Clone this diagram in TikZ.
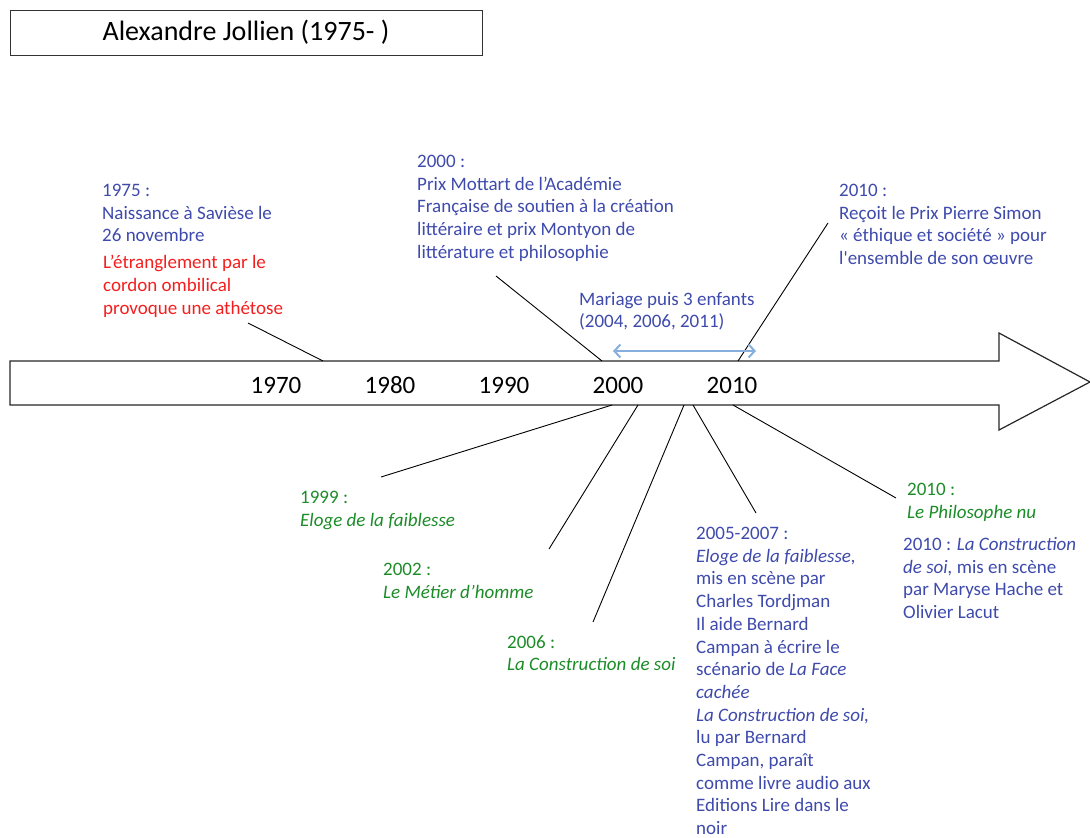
\documentclass[tikz,border=0pt]{standalone}
\usepackage{fontspec}
\setmainfont{Carlito}
\usetikzlibrary{arrows.meta}
\definecolor{evblue}{RGB}{62,74,172}
\definecolor{evgreen}{RGB}{28,140,40}
\definecolor{evred}{RGB}{245,30,30}
\definecolor{kidblue}{RGB}{135,175,222}

\begin{document}
\begin{tikzpicture}[x=1pt,y=-1pt,
        txt/.style={anchor=north west,inner sep=0pt,align=left,font=\fontsize{19}{22.7}\selectfont},
        bluetxt/.style={txt,text=evblue},
        greentxt/.style={txt,text=evgreen},
        redtxt/.style={txt,text=evred},
        yearlbl/.style={inner sep=0pt,font=\fontsize{25}{30}\selectfont},
        link/.style={black,line width=0.9pt}]
        \useasboundingbox (0,0) rectangle (1090,838);
        % title
        \node[draw=black!80,line width=1pt,minimum width=472,minimum height=45,inner sep=0pt,
          font=\fontsize{28}{32}\selectfont] (title) at (246,32.5) {Alexandre Jollien (1975- )};
        % time axis
        \draw[black!85,line width=1.2pt] (10,361) -- (999,361) -- (999,333) -- (1090,382)
          -- (999,430) -- (999,405) -- (10,405) -- cycle;
        \foreach \yr [count=\i from 0] in {1970,1980,1990,2000,2010}
          \node[yearlbl] (y\yr) at (276+114*\i,385) {\yr};
        % points on the axis
        \coordinate (a1975) at (323,361);
        \coordinate (a2000t) at (602,361);
        \coordinate (a2010t) at (738,361);
        \coordinate (a1999) at (612,405);
        \coordinate (a2002) at (638,405);
        \coordinate (a2006) at (684,405);
        \coordinate (a2005) at (693,405);
        \coordinate (a2010b) at (733,405);
        % free ends
        \coordinate (e1975) at (248,323);
        \coordinate (e2000t) at (496,276);
        \coordinate (e2010t) at (828,223);
        \coordinate (e1999) at (381,477);
        \coordinate (e2002) at (549,549);
        \coordinate (e2006) at (593,622);
        \coordinate (e2005) at (756,513);
        \coordinate (e2010b) at (896,498);
        \foreach \p in {1975,2000t,2010t,1999,2002,2006,2005,2010b}
          \draw[link] (a\p) -- (e\p);
        % mariage
        \coordinate (m1) at (613,351);
        \coordinate (m2) at (756,351);
        \draw[kidblue,line width=2pt,{Straight Barb[length=6pt,width=13pt]}-{Straight Barb[length=6pt,width=13pt]}] (m1) -- (m2);
        % texts above the axis
        \node[bluetxt] (n1975) at (102,184) {1975 :\\Naissance à Savièse le\\26 novembre};
        \node[redtxt] (n1975r) at (103,255) {L’étranglement par le\\cordon ombilical\\provoque une athétose};
        \node[bluetxt] (n2000) at (417,155) {2000 :\\Prix Mottart de l’Académie\\Française de soutien à la création\\littéraire et prix Montyon de\\littérature et philosophie};
        \node[bluetxt] (nkids) at (579,292) {Mariage puis 3 enfants\\(2004, 2006, 2011)};
        \node[bluetxt] (n2010t) at (839,184) {2010 :\\Reçoit le Prix Pierre Simon\\« éthique et société » pour\\l\textquotesingle ensemble de son œuvre};
        % texts below the axis
        \node[greentxt] (n1999) at (300,491) {1999 :\\\textit{Eloge de la faiblesse}};
        \node[greentxt] (n2002) at (383,563) {2002 :\\\textit{Le Métier d’homme}};
        \node[greentxt] (n2006) at (507,635) {2006 :\\\textit{La Construction de soi}};
        \node[bluetxt] (n2005) at (696,527) {2005-2007 :\\\textit{Eloge de la faiblesse,}\\mis en scène par\\Charles Tordjman\\Il aide Bernard\\Campan à écrire le\\scénario de \textit{La Face}\\\textit{cachée}\\\textit{La Construction de soi,}\\lu par Bernard\\Campan, paraît\\comme livre audio aux\\Editions Lire dans le\\noir};
        \node[greentxt] (n2010g) at (907,483) {2010 :\\\textit{Le Philosophe nu}};
        \node[bluetxt] (n2010b) at (903,537) {2010 : \textit{La Construction}\\\textit{de soi,} mis en scène\\par Maryse Hache et\\Olivier Lacut};
\end{tikzpicture}
\end{document}
